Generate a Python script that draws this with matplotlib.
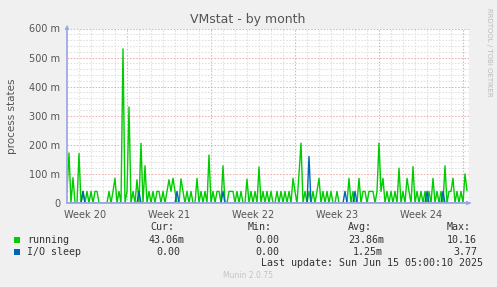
import numpy as np
import matplotlib
matplotlib.use("Agg")
import matplotlib.pyplot as plt

# time axis: days relative to start of Week 21, one sample every 4 hours
t_start = -5.0
t_step = 1 / 6.0

# running processes (milli)
running = [
    40, 172, 0, 87, 0, 0, 170, 0, 40, 0,
    40, 0, 40, 0, 40, 40, 0, 0, 0, 0,
    0, 40, 0, 40, 85, 0, 40, 0, 530, 0,
    40, 330, 0, 40, 0, 80, 0, 205, 0, 128,
    0, 40, 0, 40, 0, 40, 40, 0, 40, 0,
    40, 80, 40, 85, 40, 0, 0, 83, 40, 0,
    40, 0, 40, 0, 0, 85, 0, 40, 0, 40,
    0, 165, 0, 40, 0, 40, 40, 0, 128, 0,
    0, 40, 40, 40, 0, 40, 0, 40, 0, 0,
    82, 0, 40, 0, 40, 0, 124, 0, 40, 0,
    40, 0, 40, 0, 0, 40, 0, 40, 0, 40,
    0, 40, 0, 85, 40, 0, 100, 206, 0, 40,
    0, 40, 0, 40, 0, 40, 85, 0, 40, 0,
    40, 0, 40, 0, 0, 40, 0, 0, 0, 0,
    0, 85, 0, 40, 0, 0, 85, 0, 40, 40,
    0, 40, 40, 40, 0, 40, 206, 40, 85, 0,
    40, 0, 40, 0, 40, 0, 120, 0, 40, 0,
    85, 40, 0, 125, 0, 40, 0, 40, 0, 40,
    0, 40, 0, 85, 0, 40, 0, 40, 0, 128,
    0, 40, 40, 85, 0, 40, 0, 40, 0, 100,
    43,
]

# I/O sleep (milli)
io_sleep = [
    0, 0, 0, 0, 0, 0, 0, 0, 40, 0,
    0, 0, 0, 0, 0, 0, 0, 0, 0, 0,
    0, 0, 0, 0, 0, 0, 0, 0, 0, 0,
    0, 0, 0, 0, 0, 0, 40, 0, 0, 0,
    0, 0, 0, 0, 0, 0, 0, 0, 0, 0,
    0, 0, 0, 0, 0, 40, 0, 0, 0, 0,
    0, 0, 0, 0, 0, 0, 0, 0, 0, 0,
    0, 0, 0, 0, 0, 0, 0, 0, 40, 0,
    0, 0, 0, 0, 0, 0, 0, 0, 0, 0,
    0, 0, 0, 0, 0, 0, 0, 0, 0, 0,
    0, 0, 0, 0, 0, 0, 0, 0, 0, 0,
    0, 0, 0, 0, 0, 0, 0, 0, 0, 0,
    0, 160, 0, 0, 0, 0, 0, 0, 0, 0,
    0, 0, 0, 0, 0, 0, 0, 0, 0, 40,
    0, 0, 0, 0, 40, 0, 0, 0, 0, 0,
    0, 0, 0, 0, 0, 0, 0, 0, 0, 0,
    0, 0, 0, 0, 0, 0, 0, 0, 0, 0,
    0, 0, 0, 0, 0, 0, 0, 0, 0, 0,
    40, 0, 0, 0, 0, 0, 0, 0, 40, 0,
    0, 0, 0, 0, 0, 0, 0, 0, 0, 0,
    0,
]

week_labels = ["Week 20", "Week 21", "Week 22", "Week 23", "Week 24"]
week_mid = [-3.5, 3.5, 10.5, 17.5, 24.5]
y_ticks = [0, 100, 200, 300, 400, 500, 600]
y_labels = ["0", "100 m", "200 m", "300 m", "400 m", "500 m", "600 m"]

legend_rows = [
    ("running", "#00CC00", "43.06m", "0.00", "23.86m", "10.16"),
    ("I/O sleep", "#0066B3", "0.00", "0.00", "1.25m", "3.77"),
]

W, H = 497, 287
fig = plt.figure(figsize=(W / 100, H / 100), dpi=100, facecolor="#F0F0F0")

def fx(px):
    return px / W

def fy(py):
    return 1 - py / H

x0, x1, ytop, ybot = 67, 469, 28.5, 203
ax = fig.add_axes([fx(x0), fy(ybot), fx(x1) - fx(x0), fy(ytop) - fy(ybot)])
ax.set_facecolor("white")
ax.set_xlim(-5.0, 28.5)
ax.set_ylim(0, 600)

# grid: minor grey each day / 20 m, major red each week / 100 m
grid_minor = "#E0E0E0"
grid_major = "#EBB0B0"
for d in range(-4, 29):
    c = grid_major if d % 7 == 0 else grid_minor
    ax.axvline(d, color=c, lw=0.75, ls=(0, (1.5, 1.5)), zorder=1)
for v in range(20, 601, 20):
    c = grid_major if v % 100 == 0 else grid_minor
    ax.axhline(v, color=c, lw=0.75, ls=(0, (1.5, 1.5)), zorder=1)

t = t_start + t_step * np.arange(len(running))
ax.plot(t, running, color="#00CC00", lw=1.0, zorder=3)
ax.plot(t, io_sleep, color="#0066B3", lw=1.0, zorder=4)

axis_col = "#A0A8E4"
for s in ["top", "right"]:
    ax.spines[s].set_visible(False)
for s in ["left", "bottom"]:
    ax.spines[s].set_color(axis_col)
    ax.spines[s].set_linewidth(1.3)
    ax.spines[s].set_zorder(5)
ax.annotate("", xy=(fx(474), fy(ybot)), xytext=(fx(x1 - 2), fy(ybot)),
            xycoords="figure fraction",
            arrowprops=dict(arrowstyle="-|>", color=axis_col, lw=0.8,
                            mutation_scale=6))
ax.annotate("", xy=(fx(x0), fy(22)), xytext=(fx(x0), fy(ytop + 2)),
            xycoords="figure fraction",
            arrowprops=dict(arrowstyle="-|>", color=axis_col, lw=0.8,
                            mutation_scale=6))

ax.set_xticks(week_mid)
ax.set_xticklabels(week_labels)
ax.set_yticks(y_ticks)
ax.set_yticklabels(y_labels)
ax.tick_params(length=0, labelsize=7, colors="#555555", pad=5)

fig.text(fx(248), fy(19), "VMstat - by month", ha="center", va="center",
         fontsize=9, color="#555555")
fig.text(fx(12), fy(116), "process states", rotation=90, ha="center",
         va="center", fontsize=7.5, color="#555555")
fig.text(fx(489), fy(52), "RRDTOOL / TOBI OETIKER", rotation=270,
         ha="center", va="center", fontsize=5, color="#BBBBBB")

mono = dict(family="DejaVu Sans Mono", fontsize=7.2, color="#333333",
            va="center")
for lab, px in zip(["Cur:", "Min:", "Avg:", "Max:"], [150, 248, 348, 447]):
    fig.text(fx(px), fy(227), lab, **mono)

cols_x = [[149, 255, 348, 447], [156, 255, 353, 453]]
for r, (name, col, cur, mn, avg, mx) in enumerate(legend_rows):
    yy = 240 + 12 * r
    fig.patches.append(plt.Rectangle((fx(14), fy(yy + 3)), 6 / W, 6 / H,
                                     transform=fig.transFigure,
                                     facecolor=col, edgecolor="none"))
    fig.text(fx(27), fy(yy), name, **mono)
    for px, val in zip(cols_x[r], [cur, mn, avg, mx]):
        fig.text(fx(px), fy(yy), val, **mono)

fig.text(fx(261), fy(263.5), "Last update: Sun Jun 15 05:00:10 2025", **mono)
fig.text(fx(248), fy(276), "Munin 2.0.75", ha="center", va="center",
         fontsize=5.5, color="#C4C4C4")

fig.savefig("out.png", dpi=100, facecolor=fig.get_facecolor())
